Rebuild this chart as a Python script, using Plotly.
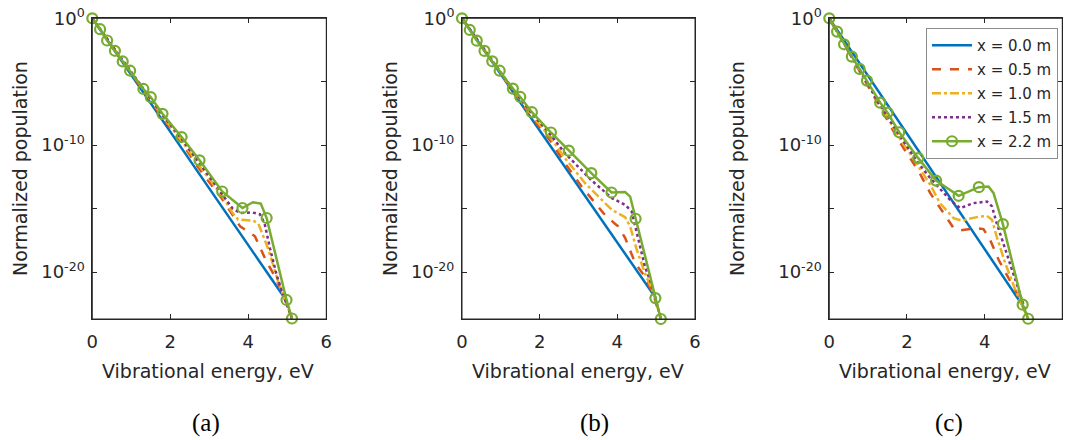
import plotly.graph_objects as go

W, H = 1066, 440

# ---------------- data (log10 of normalized population) ----------------
E_MK = [0, 0.20, 0.38, 0.58, 0.78, 0.97, 1.31, 1.50, 1.80, 2.29, 2.75, 3.33, 3.85, 4.47, 4.98, 5.12]

LEGEND_NAMES = ["x = 0.0 m", "x = 0.5 m", "x = 1.0 m", "x = 1.5 m", "x = 2.2 m"]
X_TICKS = [0, 2, 4, 6]
Y_TICKVALS = [1, 1e-5, 1e-10, 1e-15, 1e-20]
Y_TICKTEXT = ["10<sup>0</sup>", " ", "10<sup>-10</sup>", " ", "10<sup>-20</sup>"]
CAPTIONS = ["(a)", "(b)", "(c)"]

# panel (a)
A_BLUE_E = [0, 4.98]
A_BLUE_L = [0, -22.26]
A_RED_E = [0, 0.97, 1.31, 1.80, 2.29, 2.75, 3.33, 3.79, 4.17, 4.47, 4.67, 4.90, 5.12]
A_RED_L = [0, -4.2, -5.72, -7.82, -9.8, -11.9, -14.25, -16.4, -17.18, -19.2, -20.27, -21.8, -23.66]
A_YEL_E = [0, 0.97, 1.31, 1.80, 2.29, 2.75, 3.33, 3.6, 3.74, 4.13, 4.26, 4.51, 4.77, 5.12]
A_YEL_L = [0, -4.17, -5.67, -7.72, -9.65, -11.65, -14.0, -15.35, -15.87, -15.95, -16.2, -18.17, -20.8, -23.66]
A_PUR_E = [0, 0.97, 1.31, 1.80, 2.29, 2.75, 3.33, 3.6, 3.8, 4.1, 4.3, 4.42, 4.56, 4.73, 4.87, 5.12]
A_PUR_L = [0, -4.15, -5.62, -7.62, -9.5, -11.4, -13.85, -15.0, -15.35, -15.3, -15.45, -16.2, -18.17, -20.27, -21.57, -23.66]
A_GRN_MK = [0, -0.86, -1.75, -2.56, -3.40, -4.13, -5.57, -6.22, -7.53, -9.36, -11.19, -13.65, -14.95, -15.74, -22.2, -23.66]
A_GRN_EXTRA_E = [4.12, 4.32]
A_GRN_EXTRA_L = [-14.5, -14.6]

# panel (b)
B_BLUE_E = [0, 4.99]
B_BLUE_L = [0, -22.05]
B_RED_E = [0, 0.97, 1.31, 1.80, 2.29, 2.65, 3.08, 3.64, 3.94, 4.02, 4.2, 4.46, 4.71, 4.93, 5.12]
B_RED_L = [0, -4.25, -5.7, -7.8, -9.7, -11.42, -13.26, -15.35, -16.2, -16.4, -17.3, -19.3, -20.35, -21.8, -23.7]
B_YEL_E = [0, 0.97, 1.31, 1.80, 2.29, 2.65, 3.17, 3.86, 4.2, 4.33, 4.5, 4.71, 4.93, 5.12]
B_YEL_L = [0, -4.2, -5.65, -7.65, -9.45, -11.02, -13.0, -15.1, -15.67, -16.4, -18.24, -20.08, -21.65, -23.7]
B_PUR_E = [0, 0.97, 1.31, 1.80, 2.29, 2.65, 3.32, 3.86, 4.2, 4.37, 4.5, 4.71, 4.9, 5.12]
B_PUR_L = [0, -4.15, -5.6, -7.5, -9.2, -10.63, -12.73, -14.17, -14.7, -15.23, -16.93, -19.56, -21.13, -23.7]
B_GRN_MK = [0, -0.92, -1.76, -2.57, -3.39, -4.13, -5.54, -6.2, -7.4, -9.0, -10.43, -12.2, -13.73, -15.8, -22.05, -23.7]
B_GRN_EXTRA_E = [4.2, 4.33]
B_GRN_EXTRA_L = [-13.7, -14.05]

# panel (c)
C_BLUE_E = [0, 4.97]
C_BLUE_L = [0, -22.6]
C_RED_E = [0, 0.95, 1.29, 1.80, 2.29, 2.60, 2.94, 3.20, 3.37, 3.80, 3.97, 4.14, 4.36, 4.61, 4.85, 5.12]
C_RED_L = [0, -5.05, -6.9, -9.7, -12.0, -13.78, -15.35, -16.54, -16.72, -16.54, -16.61, -17.46, -19.03, -20.47, -21.79, -23.68]
C_YEL_E = [0, 0.95, 1.29, 1.80, 2.29, 2.60, 2.85, 3.20, 3.41, 3.80, 4.06, 4.19, 4.31, 4.53, 4.79, 5.12]
C_YEL_L = [0, -5.0, -6.8, -9.4, -11.65, -13.13, -14.57, -15.75, -15.94, -15.67, -15.57, -15.88, -17.2, -19.3, -21.4, -23.68]
C_PUR_E = [0, 0.95, 1.29, 1.80, 2.29, 2.60, 3.11, 3.37, 3.71, 4.06, 4.19, 4.31, 4.53, 4.79, 5.12]
C_PUR_L = [0, -4.95, -6.75, -9.2, -11.4, -12.6, -14.31, -14.96, -14.57, -14.44, -14.83, -16.14, -18.24, -20.6, -23.68]
C_GRN_MK = [0, -1.05, -2.05, -3.02, -3.99, -4.91, -6.65, -7.43, -8.98, -11.02, -12.79, -13.99, -13.31, -16.22, -22.57, -23.68]
C_GRN_EXTRA_E = [4.1, 4.23]
C_GRN_EXTRA_L = [-13.26, -13.78]

PANELS = [
    dict(blue=(A_BLUE_E, A_BLUE_L), red=(A_RED_E, A_RED_L), yel=(A_YEL_E, A_YEL_L),
         pur=(A_PUR_E, A_PUR_L), grn=A_GRN_MK, extra=(A_GRN_EXTRA_E, A_GRN_EXTRA_L)),
    dict(blue=(B_BLUE_E, B_BLUE_L), red=(B_RED_E, B_RED_L), yel=(B_YEL_E, B_YEL_L),
         pur=(B_PUR_E, B_PUR_L), grn=B_GRN_MK, extra=(B_GRN_EXTRA_E, B_GRN_EXTRA_L)),
    dict(blue=(C_BLUE_E, C_BLUE_L), red=(C_RED_E, C_RED_L), yel=(C_YEL_E, C_YEL_L),
         pur=(C_PUR_E, C_PUR_L), grn=C_GRN_MK, extra=(C_GRN_EXTRA_E, C_GRN_EXTRA_L)),
]

# ---------------- styling ----------------
COL_BLUE = "#0072BD"
COL_RED = "#D95319"
COL_YEL = "#EDB120"
COL_PUR = "#7E2F8E"
COL_GRN = "#77AC30"
AX_COL = "#262626"
FONT = "DejaVu Sans"
LW = 2.5

STYLES = [
    ("blue", COL_BLUE, "solid"),
    ("red", COL_RED, "dash"),
    ("yel", COL_YEL, "dashdot"),
    ("pur", COL_PUR, "dot"),
]

AX_X = [(92.3, 326.3), (462.0, 695.0), (829.3, 1062.3)]
AX_TOP, AX_BOT = 18.3, 319.0
Y_RANGE = [-23.7, 0]


def lin(v):
    return [float(10.0 ** x) for x in v]


fig = go.Figure()

for i, p in enumerate(PANELS):
    xa = "x" if i == 0 else f"x{i+1}"
    ya = "y" if i == 0 else f"y{i+1}"
    for key, col, dash in STYLES:
        e, l = p[key]
        fig.add_trace(go.Scatter(x=list(e), y=lin(l), mode="lines", xaxis=xa, yaxis=ya,
                                 line=dict(color=col, width=LW, dash=dash),
                                 showlegend=False))
    pts = sorted(zip(list(E_MK) + list(p["extra"][0]), list(p["grn"]) + list(p["extra"][1])))
    fig.add_trace(go.Scatter(x=[a for a, b in pts], y=lin([b for a, b in pts]), mode="lines",
                             xaxis=xa, yaxis=ya, line=dict(color=COL_GRN, width=LW),
                             showlegend=False))
    fig.add_trace(go.Scatter(x=list(E_MK), y=lin(p["grn"]), mode="markers", xaxis=xa, yaxis=ya,
                             marker=dict(symbol="circle-open", size=10, color=COL_GRN,
                                         line=dict(width=2.2, color=COL_GRN)),
                             showlegend=False, cliponaxis=False))

for name, (key, col, dash) in zip(LEGEND_NAMES[:4], STYLES):
    fig.add_trace(go.Scatter(x=[None], y=[None], mode="lines", name=name, xaxis="x3", yaxis="y3",
                             line=dict(color=col, width=LW, dash=dash), legendgroup=name))
fig.add_trace(go.Scatter(x=[None], y=[None], mode="lines+markers", name=LEGEND_NAMES[4],
                         xaxis="x3", yaxis="y3", legendgroup=LEGEND_NAMES[4],
                         line=dict(color=COL_GRN, width=LW),
                         marker=dict(symbol="circle-open", size=10, color=COL_GRN,
                                     line=dict(width=2.2, color=COL_GRN))))

for i, (l, r) in enumerate(AX_X):
    sfx = "" if i == 0 else str(i + 1)
    xd = dict(domain=[l / W, r / W], range=[0, 6], tickmode="array", tickvals=X_TICKS,
              anchor="y" + sfx, showline=True, linecolor=AX_COL, mirror="ticks",
              ticks="inside", ticklen=5, tickcolor=AX_COL, showgrid=False, zeroline=False,
              tickfont=dict(size=18, family=FONT, color=AX_COL), ticklabelstandoff=6)
    yd = dict(domain=[1 - AX_BOT / H, 1 - AX_TOP / H], type="log", range=Y_RANGE,
              tickmode="array", tickvals=Y_TICKVALS, ticktext=Y_TICKTEXT, anchor="x" + sfx,
              showline=True, linecolor=AX_COL, mirror="ticks",
              ticks="inside", ticklen=5, tickcolor=AX_COL, showgrid=False, zeroline=False,
              tickfont=dict(size=18, family=FONT, color=AX_COL), ticklabelstandoff=3)
    fig.update_layout(**{"xaxis" + sfx: xd, "yaxis" + sfx: yd})
    # axes box (same place as the axis lines)
    fig.add_shape(type="rect", xref=f"x{sfx} domain", yref=f"y{sfx} domain", x0=0, x1=1, y0=0, y1=1,
                  line=dict(color=AX_COL, width=1), layer="above")

XT_CENTERS = [208, 577.5, 945]
YT_CENTERS = [20, 390, 737]
CAP_CENTERS = [206, 594, 949]
for i in range(3):
    fig.add_annotation(text="Vibrational energy, eV", x=XT_CENTERS[i] / W, y=1 - 371 / H,
                       xref="paper", yref="paper", xanchor="center", yanchor="middle", showarrow=False,
                       font=dict(size=19, family=FONT, color=AX_COL))
    fig.add_annotation(text="Normalized population", x=YT_CENTERS[i] / W, y=1 - 169 / H, textangle=-90,
                       xref="paper", yref="paper", xanchor="center", yanchor="middle", showarrow=False,
                       font=dict(size=19, family=FONT, color=AX_COL))
    fig.add_annotation(text=CAPTIONS[i], x=CAP_CENTERS[i] / W, y=1 - 423 / H,
                       xref="paper", yref="paper", xanchor="center", yanchor="middle", showarrow=False,
                       font=dict(size=25, family="Liberation Serif", color="black"))

fig.update_layout(
    template="none",
    width=W, height=H, margin=dict(l=0, r=0, t=0, b=0, autoexpand=False),
    font=dict(family=FONT, color=AX_COL, size=18),
    legend=dict(x=926 / W, y=1 - 28 / H, xanchor="left", yanchor="top",
                bgcolor="white", bordercolor="#8c8c8c", borderwidth=1,
                font=dict(family=FONT, size=15, color=AX_COL),
                traceorder="grouped", tracegroupgap=1.5, itemwidth=40),
)
fig.write_html("out.html")
